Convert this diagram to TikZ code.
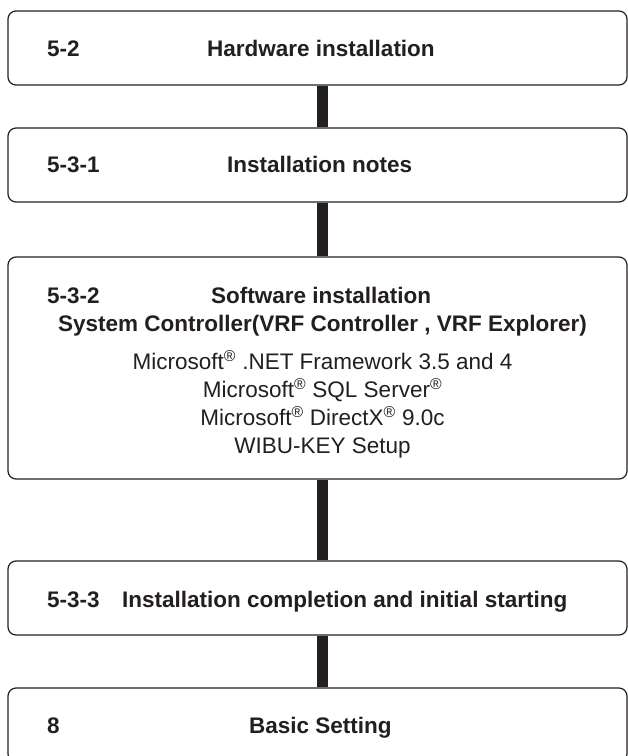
\documentclass[tikz,border=0pt]{standalone}
\usepackage{fontspec}
\setmainfont{Liberation Sans}
\definecolor{ink}{HTML}{231F20}
\begin{document}
\begin{tikzpicture}[x=1pt,y=-1pt,
  box/.style={draw=ink, line width=1.2pt, rounded corners=8pt, fill=white,
    minimum width=619pt, inner sep=0pt},
  lab/.style={font=\fontsize{22.5}{27}\selectfont\bfseries, text=ink,
    inner sep=0pt, anchor=base west},
  cenb/.style={font=\fontsize{22.5}{27}\selectfont\bfseries, text=ink,
    inner sep=0pt, anchor=base},
  cen/.style={font=\fontsize{22.5}{27}\selectfont, text=ink,
    inner sep=0pt, anchor=base},
  conn/.style={draw=ink, line width=11pt}]
\useasboundingbox (0,0) rectangle (628,756);
\clip (0,0) rectangle (628,756);
\coordinate (axis) at (322.5,0);
% boxes
\node[box, minimum height=74pt]  (b1) at (317.5,48) {};
\node[box, minimum height=74pt]  (b2) at (317.5,165) {};
\node[box, minimum height=222pt] (b3) at (317.5,368) {};
\node[box, minimum height=74pt]  (b4) at (317.5,598) {};
\node[box, minimum height=74pt]  (b5) at (317.5,725) {};
% connectors
\draw[conn] (b1.south -| axis) -- (b2.north -| axis);
\draw[conn] (b2.south -| axis) -- (b3.north -| axis);
\draw[conn] (b3.south -| axis) -- (b4.north -| axis);
\draw[conn] (b4.south -| axis) -- (b5.north -| axis);
% texts
\node[lab] (n1) at (47,56) {5-2};
\node[lab] (t1) at (207,56) {Hardware installation};
\node[lab] (n2) at (47,172) {5-3-1};
\node[lab] (t2) at (227,172) {Installation notes};
\node[lab] (n3) at (47,303) {5-3-2};
\node[lab] (t3) at (211,303) {Software installation};
\node[cenb] (t3b) at (322.5,331) {System Controller(VRF Controller , VRF Explorer)};
\node[cen] (l1) at (322.5,369) {Microsoft\textsuperscript{®} .NET Framework 3.5 and 4};
\node[cen] (l2) at (322.5,397) {Microsoft\textsuperscript{®} SQL Server\textsuperscript{®}};
\node[cen] (l3) at (322.5,425) {Microsoft\textsuperscript{®} DirectX\textsuperscript{®} 9.0c};
\node[cen] (l4) at (322.5,453) {WIBU-KEY Setup};
\node[lab] (n4) at (47,607) {5-3-3};
\node[lab] (t4) at (122,607) {Installation completion and initial starting};
\node[lab] (n5) at (47,733) {8};
\node[lab] (t5) at (249,733) {Basic Setting};
\end{tikzpicture}
\end{document}
